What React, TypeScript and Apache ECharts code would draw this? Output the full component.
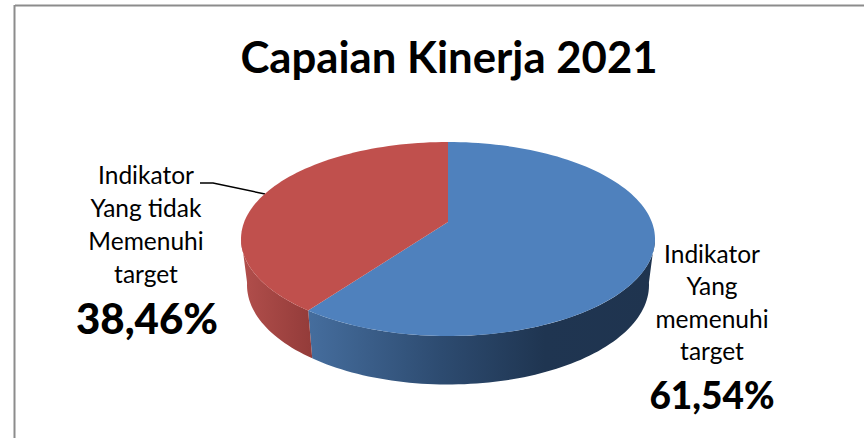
import React, { useEffect, useRef } from "react";
import * as echarts from "echarts";

const titleText = "Capaian Kinerja 2021";
const sliceNames = ["Indikator Yang memenuhi target", "Indikator Yang tidak Memenuhi target"];
const sliceValues = [61.54, 38.46];
const sliceLabels = ["61,54%", "38,46%"];
const blueLabelLines = ["Indikator", "Yang", "memenuhi", "target"];
const redLabelLines = ["Indikator", "Yang tidak", "Memenuhi", "target"];

const FONT = "Lato, 'Open Sans', sans-serif";

// Top face and lower rim of the tilted disc.
const TOP = { cx: 448, cy: 239, rx: 207, ry: 97 };
const BOTTOM = { cx: 448, cy: 285, rx: 201, ry: 99.5 };
const HUB = { x: 448, y: 222 };

type Ell = typeof TOP;

// Angle runs clockwise from twelve o'clock, with a slight foreshortening of the far side.
const rim = (e: Ell, a: number) => {
  const t = a - 0.025 * Math.sin(a);
  return [e.cx + e.rx * Math.sin(t), e.cy - e.ry * Math.cos(t)];
};

function arcPath(e: Ell, from: number, to: number, move: boolean) {
  const steps = Math.max(4, Math.ceil(Math.abs(to - from) / 0.03));
  let d = "";
  for (let i = 0; i <= steps; i++) {
    const [x, y] = rim(e, from + ((to - from) * i) / steps);
    d += (i === 0 && move ? "M" : "L") + x.toFixed(2) + " " + y.toFixed(2) + " ";
  }
  return d;
}

function grad(x0: number, x1: number, stops: [number, string][]) {
  return new echarts.graphic.LinearGradient(
    x0,
    0,
    x1,
    0,
    stops.map(([offset, color]) => ({ offset, color })),
    true,
  );
}

const topColors = ["#4f81bd", "#c0504d"];

function renderSlice(params: any, api: any) {
  const i = params.dataIndex;
  const total = sliceValues.reduce((s, v) => s + v, 0);
  const before = sliceValues.slice(0, i).reduce((s, v) => s + v, 0);
  const a0 = (before / total) * Math.PI * 2;
  const a1 = ((before + api.value(0)) / total) * Math.PI * 2;

  const children: any[] = [];
  // Visible side wall: the front half of the rim only.
  const w0 = Math.max(a0, Math.PI / 2);
  const w1 = Math.min(a1, (Math.PI * 3) / 2);
  if (w1 > w0) {
    const wall =
      arcPath(TOP, w0, w1, true) + arcPath(BOTTOM, w1, w0, false) + "Z";
    children.push({
      type: "path",
      shape: { pathData: wall },
      style: {
        fill:
          i === 0
            ? grad(310, 655, [
                [0, "#456d9d"],
                [0.38, "#2d4b70"],
                [0.68, "#1f3551"],
                [1, "#1f344f"],
              ])
            : grad(241, 310, [
                [0, "#b24f4c"],
                [1, "#943c3a"],
              ]),
      },
    });
  }
  const face =
    "M" + HUB.x + " " + HUB.y + " " + arcPath(TOP, a0, a1, false) + "Z";
  children.push({
    type: "path",
    shape: { pathData: face },
    style: { fill: topColors[i] },
  });
  return { type: "group", children };
}

function textLines(lines: string[], x: number, top: number, step: number) {
  return lines.map((text, k) => ({
    type: "text",
    x,
    y: top + k * step,
    style: {
      text,
      fill: "#000000",
      font: `24.5px ${FONT}`,
      align: "center",
      verticalAlign: "middle",
    },
  }));
}

export default function App() {
  const ref = useRef<HTMLDivElement>(null);

  useEffect(() => {
    const chart = echarts.init(ref.current!, undefined, { renderer: "svg" });
    chart.setOption({
      animation: false,
      backgroundColor: "#ffffff",
      title: {
        text: titleText,
        left: 444,
        top: 29,
        textAlign: "center",
        textStyle: { fontFamily: FONT, fontSize: 43.7, fontWeight: "bold", color: "#000000" },
      },
      series: [
        {
          type: "custom",
          coordinateSystem: "none",
          renderItem: renderSlice,
          data: sliceValues.map((value, k) => ({ name: sliceNames[k], value: [value] })),
        },
      ],
      graphic: [
        { type: "line", shape: { x1: 15, y1: 5.5, x2: 864, y2: 5.5 }, style: { stroke: "#8c8c8c", lineWidth: 2 } },
        { type: "line", shape: { x1: 14.5, y1: 5, x2: 14.5, y2: 438 }, style: { stroke: "#8c8c8c", lineWidth: 2 } },
        {
          type: "polyline",
          shape: { points: [[200, 183], [213, 183], [265, 194]] },
          style: { stroke: "#000000", lineWidth: 1.5, fill: "none" },
        },
        ...textLines(redLabelLines, 146, 174, 33),
        ...textLines(blueLabelLines, 712, 253, 32.5),
        {
          type: "text",
          x: 147,
          y: 318,
          style: { text: sliceLabels[1], fill: "#000", font: `900 42px ${FONT}`, align: "center", verticalAlign: "middle" },
        },
        {
          type: "text",
          x: 712,
          y: 394,
          style: { text: sliceLabels[0], fill: "#000", font: `900 37px ${FONT}`, align: "center", verticalAlign: "middle" },
        },
      ],
    });
    return () => chart.dispose();
  }, []);

  return <div ref={ref} style={{ position: "fixed", left: 0, top: 0, width: 864, height: 438 }} />;
}
